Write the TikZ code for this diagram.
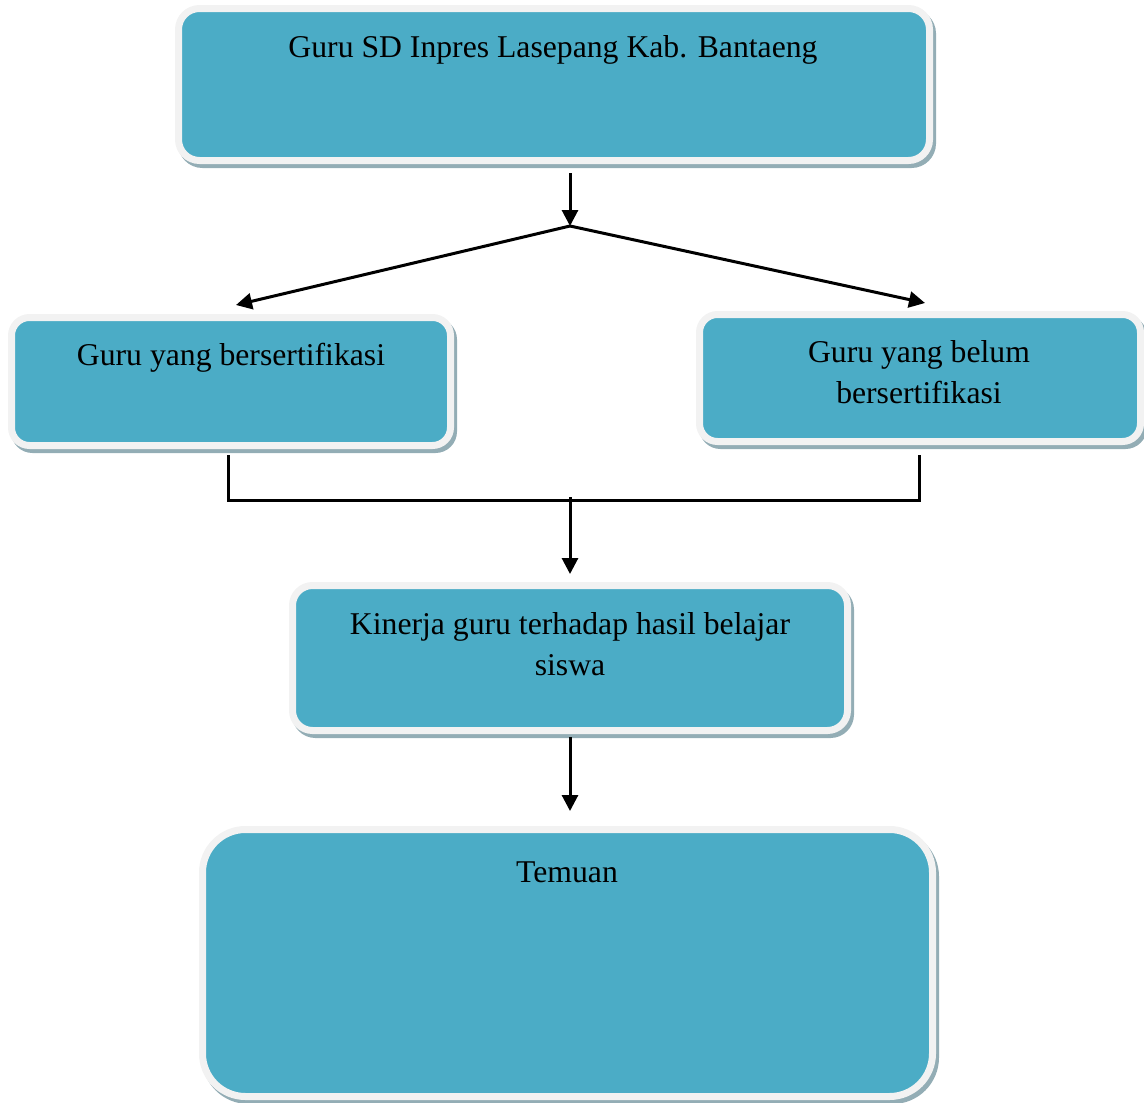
\documentclass[tikz,border=0pt]{standalone}
\usepackage{fontspec}
\setmainfont{Liberation Serif}
\usetikzlibrary{arrows.meta}
\definecolor{boxblue}{HTML}{4BACC6}
\definecolor{boxrim}{HTML}{F2F2F2}
\definecolor{boxshadow}{HTML}{93ADB5}
\tikzset{
  card/.style={rectangle, fill=boxblue, draw=boxrim, line width=7pt, inner sep=0pt,
    preaction={draw=boxshadow, fill=boxshadow, line width=7pt, transform canvas={shift={(3pt,-4pt)}}}},
  txt/.style={inner sep=0pt, align=center, font=\fontsize{31.7}{41}\selectfont},
  conn/.style={line width=3pt, draw=black},
  arr/.style={conn, -{Triangle[length=16pt,width=16pt]}}
}
\begin{document}
\begin{tikzpicture}[x=1pt,y=-1pt]
\useasboundingbox (0,0) rectangle (1144,1103);
% boxes
\node[card, rounded corners=21pt, minimum width=751pt, minimum height=152pt] (b1) at (554,84.5) {};
\node[card, rounded corners=18pt, minimum width=439pt, minimum height=128pt] (b2) at (231,381.5) {};
\node[card, rounded corners=18pt, minimum width=441pt, minimum height=127pt] (b3) at (920,378) {};
\node[card, rounded corners=20pt, minimum width=555pt, minimum height=145pt] (b4) at (570,658) {};
\node[card, rounded corners=43pt, minimum width=730pt, minimum height=267pt] (b5) at (567.5,963) {};
% texts
\node[txt, anchor=base] (t1) at (553,57) {Guru SD Inpres Lasepang Kab. Bantaeng};
\node[txt, anchor=base] (t2) at (231,365) {Guru yang bersertifikasi};
\node[txt, anchor=base] (t3) at (919,403) {Guru yang belum\\bersertifikasi};
\node[txt, anchor=base] (t4) at (570,675) {Kinerja guru terhadap hasil belajar\\siswa};
\node[txt, anchor=base] (t5) at (567,882) {Temuan};
% connector points
\coordinate (c0) at (570,173);
\coordinate (split) at (570,226);
\coordinate (tipL) at (236,305);
\coordinate (tipR) at (925,303);
\coordinate (l0) at (228,455);
\coordinate (l1) at (228,500);
\coordinate (r0) at (919,455);
\coordinate (r1) at (919,500);
\coordinate (m0) at (570,497);
\coordinate (m1) at (570,574);
\coordinate (d0) at (570,737);
\coordinate (d1) at (570,811);
% connectors
\draw[arr] (c0) -- (split);
\draw[arr] (split) -- (tipL);
\draw[arr] (split) -- (tipR);
\draw[conn] (l0) -- (l1) -- (r1) -- (r0);
\draw[arr] (m0) -- (m1);
\draw[arr] (d0) -- (d1);
\end{tikzpicture}
\end{document}
